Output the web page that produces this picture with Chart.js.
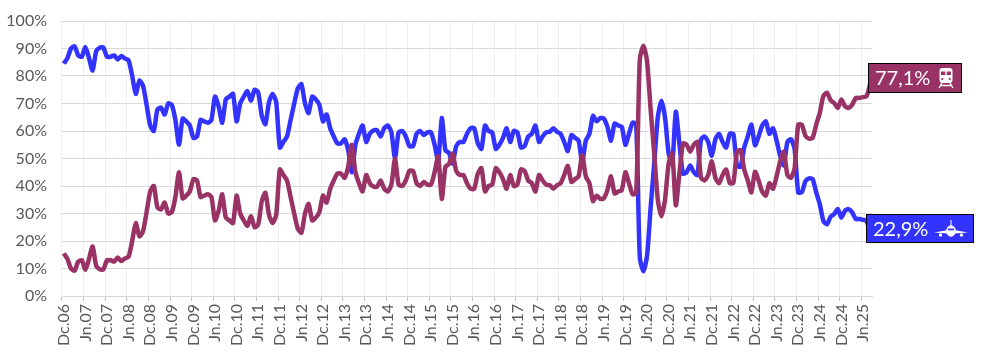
<!DOCTYPE html>
<html><head><meta charset="utf-8">
<style>html,body{margin:0;padding:0;background:#fff}#w{width:991px;height:364px;position:relative}</style>
<script src="https://cdn.jsdelivr.net/npm/chart.js@4"></script>
</head><body><div id="w"><canvas id="c"></canvas></div>
<script>
const tickLabels = ['Dc.06','Jn.07','Dc.07','Jn.08','Dc.08','Jn.09','Dc.09','Jn.10','Dc.10','Jn.11','Dc.11','Jn.12','Dc.12','Jn.13','Dc.13','Jn.14','Dc.14','Jn.15','Dc.15','Jn.16','Dc.16','Jn.17','Dc.17','Jn.18','Dc.18','Jn.19','Dc.19','Jn.20','Dc.20','Jn.21','Dc.21','Jn.22','Dc.22','Jn.23','Dc.23','Jn.24','Dc.24','Jn.25'];
const plane = [84.5,86.5,90,90.8,87.5,87,90.5,86.5,82,89,90.3,90.3,87,87,87.5,86,87.3,86.3,85.7,80,73.5,78.3,76.5,69.5,62,60,67.8,68.5,66,70,69.5,64,
55,64.5,63.5,62,57.5,58,64,63.5,63,64,72.5,69,63,71.5,72.5,73.5,63.5,70,72.5,74.5,71,75,74,65.5,62.5,70.5,73.5,70.5,54,56,58,64,70,75.5,77,70,66.5,72.5,71.5,69.5,63.5,66,
61,58,55.5,55.5,57,53,45,55,59,62,56,59,60.2,60.3,58,61,62,59.5,50,59.5,60,58,54.5,54.5,59,60,58.5,59.5,59.5,55,49.2,64.7,53,52,48.2,54.5,56,56,59,61,61,55.5,53.5,62,60,59.5,53.5,55,57.5,61,56,60,59.5,54,54.5,58,59,62,56,58,59.5,59.7,61,59.7,59,56,52.7,58.5,57.5,56.5,48.7,56.5,59,65.5,63.5,64.7,64.5,61.5,56.5,62.7,62,61.5,55,59,63,62.5,
14,9,14.5,32,48,65,71,65,52,48,67,55.5,44.5,45,47.5,45,44,57,58,56,51,57,59,56,54,59,58.8,47.5,47,54,58,62.3,54.8,58,62,63.5,59,61,56.5,51,47.5,56,57,53.5,37.7,37.7,41.7,42.8,42.5,37.7,33.4,27.3,26.1,28.8,29.8,31.6,28.5,31,31.6,30.4,28,28,27.7,27.3,22.9];
const train = [15.5,13.5,10,9.2,12.5,13,9.5,13.5,18,11,9.7,9.7,13,13,12.5,14,12.7,13.7,14.3,20,26.5,21.7,23.5,30.5,38,40,32.2,31.5,34,30,30.5,36,
45,35.5,36.5,38,42.5,42,36,36.5,37,36,27.5,31,37,28.5,27.5,26.5,36.5,30,27.5,25.5,29,25,26,34.5,37.5,29.5,26.5,29.5,46,44,42,36,30,24.5,23,30,33.5,27.5,28.5,30.5,36.5,34,
39,42,44.5,44.5,43,47,55,45,41,38,44,41,39.8,39.7,42,39,38,40.5,50,40.5,40,42,45.5,45.5,41,40,41.5,40.5,40.5,45,50.8,35.3,47,48,51.8,45.5,44,44,41,39,39,44.5,46.5,38,40,40.5,46.5,45,42.5,39,44,40,40.5,46,45.5,42,41,38,44,42,40.5,40.3,39,40.3,41,44,47.3,41.5,42.5,43.5,51.3,43.5,41,34.5,36.5,35.3,35.5,38.5,43.5,37.3,38,38.5,45,41,37,37.5,
86,91,85.5,68,52,35,29,35,48,52,33,44.5,55.5,55,52.5,55,56,43,42,44,49,43,41,44,46,41,41.2,52.5,53,46,42,37.7,45.2,42,38,36.5,41,39,43.5,49,52.5,44,43,46.5,62.3,62.3,58.3,57.2,57.5,62.3,66.6,72.7,73.9,71.2,70.2,68.4,71.5,69,68.4,69.6,72,72,72.3,72.7,77.1];
const planeLabel = '22,9%';
const trainLabel = '77,1%';
const STEP = 6;
const categories = train.map((_, i) => i % STEP === 0 ? tickLabels[i / STEP] : '');
const BLUE = '#3333ff', WINE = '#993366';

function box(ctx, x, y, w, h, fill) {
  ctx.fillStyle = fill; ctx.fillRect(x, y, w, h);
  ctx.strokeStyle = '#000'; ctx.lineWidth = 1; ctx.strokeRect(x + .5, y + .5, w - 1, h - 1);
}
function trainIcon(ctx, cx, top, bg) {
  ctx.fillStyle = '#fff';
  ctx.beginPath(); ctx.roundRect(cx - 6.5, top, 13, 15, 3); ctx.fill();
  ctx.fillStyle = bg;
  ctx.fillRect(cx - 5, top + 3.5, 4.3, 3.5); ctx.fillRect(cx + .7, top + 3.5, 4.3, 3.5);
  ctx.beginPath(); ctx.arc(cx - 3.7, top + 11, 1.1, 0, 7); ctx.arc(cx + 3.7, top + 11, 1.1, 0, 7); ctx.fill();
  ctx.strokeStyle = '#fff'; ctx.lineWidth = 1.4;
  ctx.beginPath();
  ctx.moveTo(cx - 4, top + 15); ctx.lineTo(cx - 7, top + 20);
  ctx.moveTo(cx + 4, top + 15); ctx.lineTo(cx + 7, top + 20);
  ctx.moveTo(cx - 5.5, top + 17.5); ctx.lineTo(cx + 5.5, top + 17.5);
  ctx.stroke();
}
function planeIcon(ctx, cx, cy, bg) {
  ctx.fillStyle = '#fff'; ctx.strokeStyle = '#fff';
  ctx.lineWidth = 1;
  ctx.beginPath(); ctx.moveTo(cx, cy - 11); ctx.lineTo(cx, cy); ctx.stroke();
  ctx.beginPath(); ctx.ellipse(cx, cy, 4.8, 5.8, 0, 0, 7); ctx.fill();
  ctx.beginPath(); ctx.moveTo(cx - 17, cy + 1.6); ctx.lineTo(cx - 3, cy - 1); ctx.lineTo(cx + 3, cy - 1); ctx.lineTo(cx + 17, cy + 1.6); ctx.lineTo(cx + 3, cy + 2.5); ctx.lineTo(cx - 3, cy + 2.5); ctx.closePath(); ctx.fill();
  ctx.beginPath(); ctx.arc(cx - 10.5, cy + 4, 1.7, 0, 7); ctx.arc(cx + 10.5, cy + 4, 1.7, 0, 7); ctx.fill();
  ctx.fillStyle = bg; ctx.fillRect(cx - 3, cy - 2.5, 6, 1.8);
}
const endLabels = {
  id: 'endLabels',
  afterDatasetsDraw(chart) {
    const ctx = chart.ctx;
    ctx.save();
    box(ctx, 868, 63, 94, 30, WINE);
    box(ctx, 866, 214, 108, 29, BLUE);
    ctx.fillStyle = '#fff';
    ctx.font = '20px Lato'; ctx.textBaseline = 'middle'; ctx.textAlign = 'left';
    ctx.fillText(trainLabel, 875, 78.5);
    ctx.fillText(planeLabel, 873, 229.5);
    trainIcon(ctx, 946, 68, WINE);
    planeIcon(ctx, 951, 231, BLUE);
    ctx.restore();
  }
};
new Chart(document.getElementById('c'), {
  type: 'line',
  data: { labels: categories, datasets: [
    { label: 'Avión', data: plane, borderColor: BLUE, backgroundColor: BLUE, borderWidth: 4.5, pointRadius: 0, tension: 0.22, order: 2 },
    { label: 'Tren', data: train, borderColor: WINE, backgroundColor: WINE, borderWidth: 4.5, pointRadius: 0, tension: 0.22, order: 1 }
  ]},
  options: {
    responsive: true, maintainAspectRatio: false, animation: false,
    layout: { padding: { left: 0, top: 21, right: 119, bottom: 0 } },
    plugins: { legend: { display: false }, tooltip: { enabled: false } },
    scales: {
      x: {
        type: 'category', offset: true,
        afterFit(s) { s.height = 68; s.paddingLeft = 0; s.paddingRight = 0; },
        border: { color: '#d9d9d9', width: 1 },
        grid: {
          offset: true, tickLength: 5,
          color: c => c.index % STEP === 0 ? '#eeeeee' : 'rgba(0,0,0,0)',
          tickColor: c => c.index % STEP === 0 ? '#c4c4c4' : 'rgba(0,0,0,0)'
        },
        ticks: { autoSkip: false, minRotation: 90, maxRotation: 90, padding: 3, color: '#595959', font: { family: 'Lato', size: 16 } }
      },
      y: {
        min: 0, max: 100,
        afterFit(s) { s.width = 62; s.paddingTop = 0; s.paddingBottom = 0; },
        border: { display: false },
        grid: { color: '#d9d9d9', drawTicks: false },
        ticks: { stepSize: 10, padding: 15, color: '#595959', font: { family: 'Lato', size: 16 }, callback: v => v + '%' }
      }
    }
  },
  plugins: [endLabels]
});
</script></body></html>
